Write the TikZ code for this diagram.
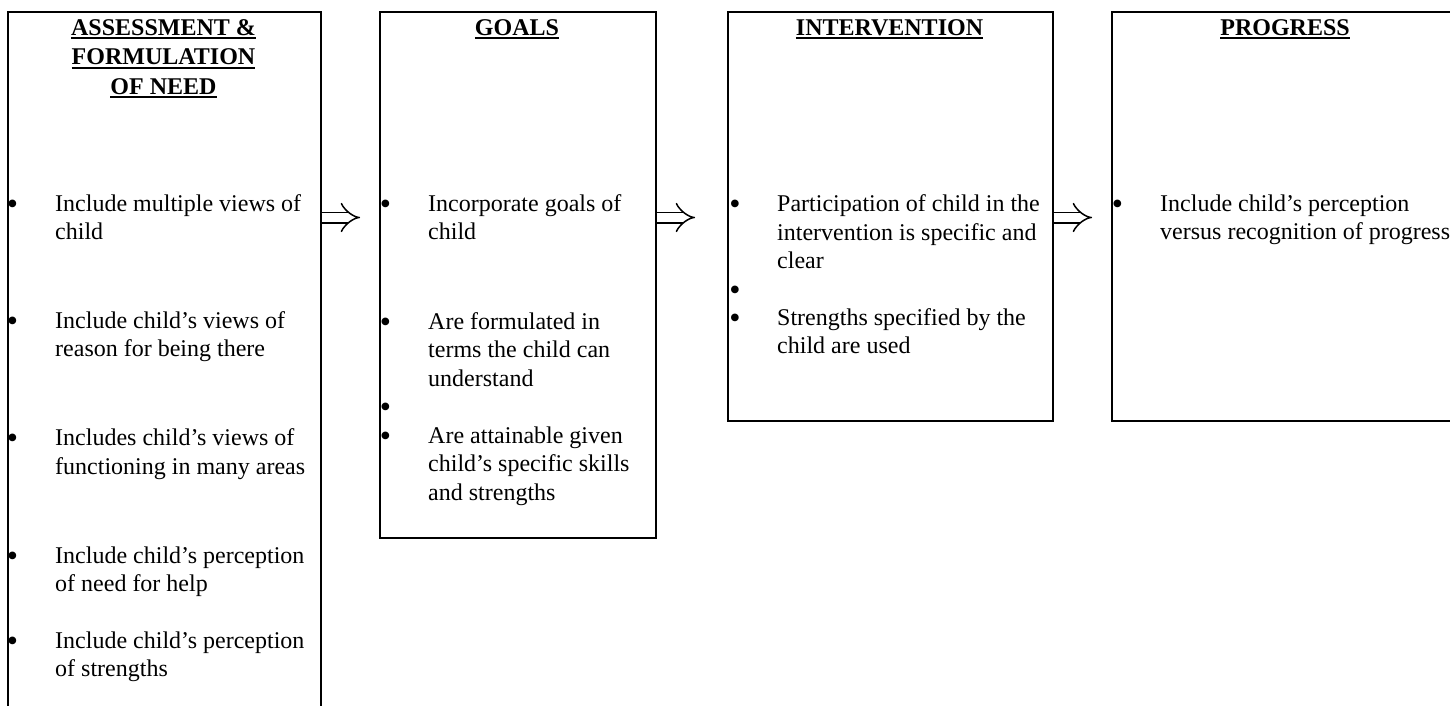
\documentclass[tikz,border=0pt]{standalone}
\usepackage{fontspec}
\setmainfont{Liberation Serif}
\usetikzlibrary{arrows.meta,positioning}

\newcommand{\bodyfont}{\fontsize{24}{28.5}\selectfont}
\newcommand{\headfont}{\fontsize{24}{29.5}\selectfont\bfseries}
% underlined heading line
\newcommand{\hdline}[1]{\setbox0\hbox{#1}\rlap{\rule[-4.2pt]{\wd0}{2pt}}\box0}

\begin{document}
\begin{tikzpicture}[x=1pt, y=-1pt,
  box/.style={draw, line width=1.6pt, anchor=north west, inner sep=0pt},
  head/.style={anchor=north, inner sep=0pt, align=center, font=\headfont},
  txt/.style={anchor=north west, inner sep=0pt, align=left, font=\bodyfont},
  blt/.style={anchor=base, inner sep=0pt, font=\fontsize{32}{32}\selectfont},
  imp/.style={double, double distance=9pt, line width=1.5pt, -{Implies}}]
\clip (0,0) rectangle (1450,706);
% the four columns
\node[box, minimum width=313pt, minimum height=719pt] (assess) at (7,11) {};
\node[box, minimum width=276pt, minimum height=526pt] (goals) at (379,11) {};
\node[box, minimum width=325pt, minimum height=409pt] (interv) at (727,11) {};
\node[box, minimum width=348pt, minimum height=409pt] (progr) at (1111,11) {};
% headings
\node[head] (h1) at (163.5,14.4) {\strut\hdline{ASSESSMENT \&}\\\hdline{FORMULATION}\\\hdline{OF NEED}};
\node[head] (h2) at (517,14.4) {\strut\hdline{GOALS}};
\node[head] (h3) at (889.5,14.4) {\strut\hdline{INTERVENTION}};
\node[head] (h4) at (1285,14.4) {\strut\hdline{PROGRESS}};
% assessment
\node[blt] (a1b) at (12.5,214) {•};
\node[txt] (a1) at (55,191) {\strut Include multiple views of\\child};
\node[blt] (a2b) at (12.5,331) {•};
\node[txt] (a2) at (55,308) {\strut Include child’s views of\\reason for being there};
\node[blt] (a3b) at (12.5,448.5) {•};
\node[txt] (a3) at (55,425.5) {\strut Includes child’s views of\\functioning in many areas};
\node[blt] (a4b) at (12.5,566) {•};
\node[txt] (a4) at (55,543) {\strut Include child’s perception\\of need for help};
\node[blt] (a5b) at (12.5,651) {•};
\node[txt] (a5) at (55,628) {\strut Include child’s perception\\of strengths};
% goals
\node[blt] (g1b) at (385.5,214) {•};
\node[txt] (g1) at (428,191) {\strut Incorporate goals of\\child};
\node[blt] (g2b) at (385.5,332) {•};
\node[txt] (g2) at (428,309) {\strut Are formulated in\\terms the child can\\understand};
\node[blt] (g3b) at (385.5,417.5) {•};
\node[blt] (g4b) at (385.5,446) {•};
\node[txt] (g4) at (428,423) {\strut Are attainable given\\child’s specific skills\\and strengths};
% intervention
\node[blt] (i1b) at (735,214.5) {•};
\node[txt] (i1) at (777,191.5) {\strut Participation of child in the\\intervention is specific and\\clear};
\node[blt] (i2b) at (735,300) {•};
\node[blt] (i3b) at (735,328) {•};
\node[txt] (i3) at (777,305) {\strut Strengths specified by the\\child are used};
% progress
\node[blt] (p1b) at (1117.5,214) {•};
\node[txt] (p1) at (1160,191) {\strut Include child’s perception\\versus recognition of progress};
% arrows
\coordinate (row) at (0,217.5);
\draw[imp, shorten >=19pt] (assess.east |- row) -- (goals.west |- row);
\draw[imp, shorten >=32pt] (goals.east |- row) -- (interv.west |- row);
\draw[imp, shorten >=19pt] (interv.east |- row) -- (progr.west |- row);
\end{tikzpicture}
\end{document}
